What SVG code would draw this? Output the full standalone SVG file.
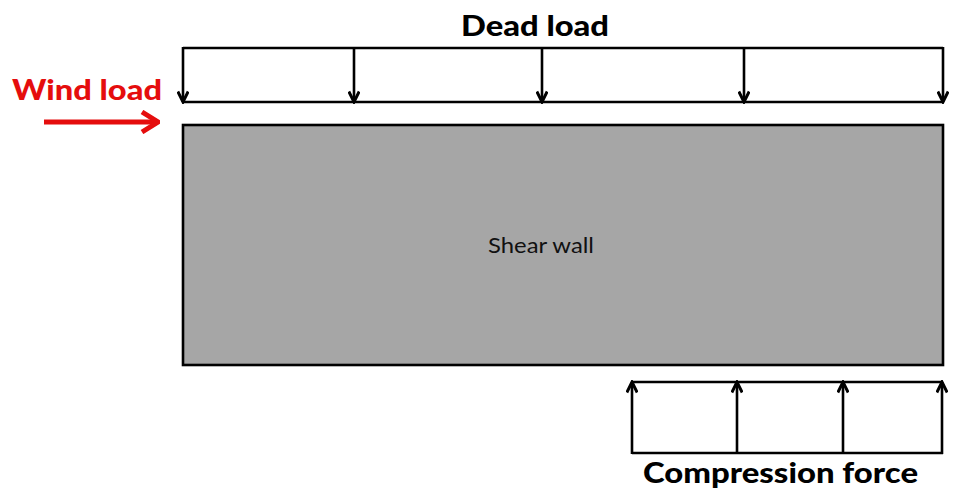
<svg xmlns="http://www.w3.org/2000/svg" width="964" height="498" viewBox="0 0 964 498">
<style>
.ln{stroke:#000;stroke-width:2.6;fill:none}
.ar{stroke:#000;stroke-width:2.6;fill:none;marker-end:url(#chev)}
.lbl{font-family:"Lato","Liberation Sans",sans-serif;font-weight:900;font-size:29px}
</style>
<defs>
<marker id="chev" viewBox="0 0 14 12" refX="12" refY="6" markerWidth="14" markerHeight="12" markerUnits="userSpaceOnUse" orient="auto">
<polyline points="1.5,0.8 12,6 1.5,11.2" fill="none" stroke="#000" stroke-width="3"/>
</marker>
<marker id="redchev" viewBox="0 0 20 24" refX="18" refY="12" markerWidth="20" markerHeight="24" markerUnits="userSpaceOnUse" orient="auto">
<polyline points="2,2 18,12 2,22" fill="none" stroke="#e50d0d" stroke-width="5"/>
</marker>
</defs>
<g id="shear-wall">
<rect x="183" y="125" width="760" height="240" fill="#a6a6a6" stroke="#000" stroke-width="2.6"/>
<text x="488" y="253" font-family="Lato,'Liberation Sans',sans-serif" font-size="22" fill="#111" textLength="106" lengthAdjust="spacingAndGlyphs">Shear wall</text>
</g>
<g id="dead-load">
<text class="lbl" x="535" y="36" text-anchor="middle" textLength="148" lengthAdjust="spacingAndGlyphs">Dead load</text>
</g>
<g id="wind-load">
<text class="lbl" x="12" y="100" fill="#e50d0d" textLength="150" lengthAdjust="spacingAndGlyphs">Wind load</text>
</g>
<g id="compression-force">
<text class="lbl" x="643" y="483" textLength="275" lengthAdjust="spacingAndGlyphs">Compression force</text>
</g>
<g id="connectors">
<line class="ln" x1="183" y1="48" x2="943" y2="48"/>
<line class="ln" x1="183" y1="102" x2="943" y2="102"/>
<line class="ar" x1="183" y1="47" x2="183" y2="102"/>
<line class="ar" x1="354" y1="48" x2="354" y2="102"/>
<line class="ar" x1="542" y1="48" x2="542" y2="102"/>
<line class="ar" x1="744" y1="48" x2="744" y2="102"/>
<line class="ar" x1="943" y1="47" x2="943" y2="102"/>
<line class="ln" x1="633" y1="382" x2="943" y2="382"/>
<line class="ln" x1="632" y1="453" x2="943" y2="453"/>
<line class="ar" x1="632" y1="454" x2="632" y2="382"/>
<line class="ar" x1="737" y1="453" x2="737" y2="382"/>
<line class="ar" x1="843" y1="453" x2="843" y2="382"/>
<line class="ar" x1="942" y1="454" x2="942" y2="382"/>
<line x1="44" y1="122" x2="158" y2="122" stroke="#e50d0d" stroke-width="5" marker-end="url(#redchev)"/>
</g>
</svg>
